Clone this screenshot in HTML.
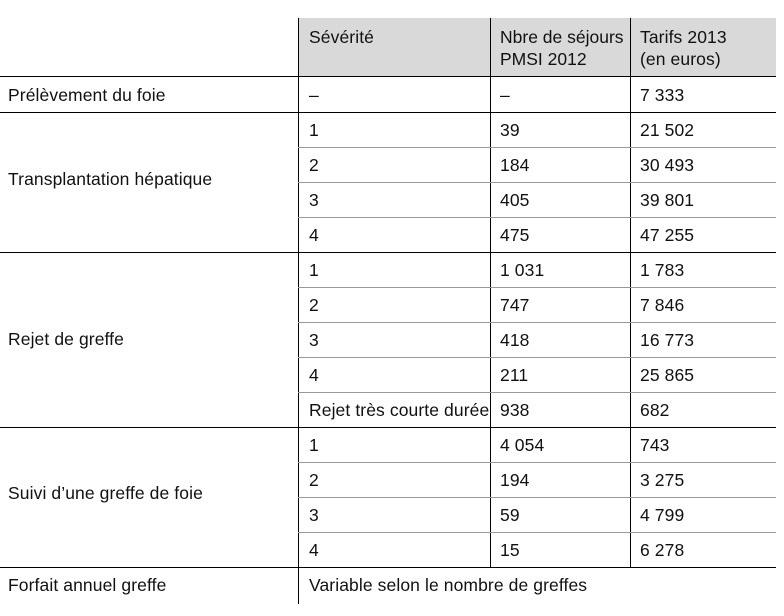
<!DOCTYPE html>
<html><head><meta charset="utf-8"><style>
body{margin:0;width:784px;height:616px;background:#fff;position:relative;overflow:hidden;font-family:"Liberation Sans",Arial,sans-serif;font-size:17.5px;letter-spacing:0.1px;color:#111;}
.h{position:absolute;height:0;}
.v{position:absolute;width:1px;background:#000;}
.t{position:absolute;white-space:nowrap;line-height:20px;}
</style></head><body>
<div style="position:absolute;left:298px;top:18px;width:478px;height:58px;background:#d9d9d9"></div>
<div class="v" style="left:298px;top:18px;height:586px"></div>
<div class="v" style="left:490px;top:18px;height:549px"></div>
<div class="v" style="left:630px;top:18px;height:549px"></div>
<div class="t" style="left:309px;top:26px;line-height:22px">Sévérité</div>
<div class="t" style="left:500px;top:26px;line-height:22px;letter-spacing:0">Nbre de séjours<br>PMSI 2012</div>
<div class="t" style="left:640px;top:26px;line-height:22px">Tarifs 2013<br>(en euros)</div>
<script>
var b=document.body;
function line(y,thick,x0){var d=document.createElement('div');d.className='h';d.style.cssText='left:'+(x0||0)+'px;width:'+(776-(x0||0))+'px;top:'+y+'px;border-top:'+(thick?'1.5px solid #000':'1px solid #999');b.appendChild(d);}
function txt(x,y,s){var d=document.createElement('div');d.className='t';d.style.left=x+'px';d.style.top=y+'px';d.textContent=s;b.appendChild(d);}
line(76,1);line(112,1);
var ys=[112,147,182,217,252,287,322,357,392,427,462,497,532,567];
var thick={252:1,427:1,567:1};
for(var i=1;i<ys.length;i++){ if(thick[ys[i]]) line(ys[i],1); else line(ys[i],0,298);}
txt(8,85,'Prélèvement du foie');txt(309,85,'–');txt(500,85,'–');txt(640,85,'7 333');
var data=[['1','39','21 502'],['2','184','30 493'],['3','405','39 801'],['4','475','47 255'],
['1','1 031','1 783'],['2','747','7 846'],['3','418','16 773'],['4','211','25 865'],['Rejet très courte durée','938','682'],
['1','4 054','743'],['2','194','3 275'],['3','59','4 799'],['4','15','6 278']];
for(var i=0;i<data.length;i++){var y=112+35*i+8;txt(309,y,data[i][0]);txt(500,y,data[i][1]);txt(640,y,data[i][2]);}
txt(8,169,'Transplantation hépatique');
txt(8,329,'Rejet de greffe');
txt(8,483,'Suivi d’une greffe de foie');
txt(8,575,'Forfait annuel greffe');
txt(309,575,'Variable selon le nombre de greffes');
</script>
</body></html>
